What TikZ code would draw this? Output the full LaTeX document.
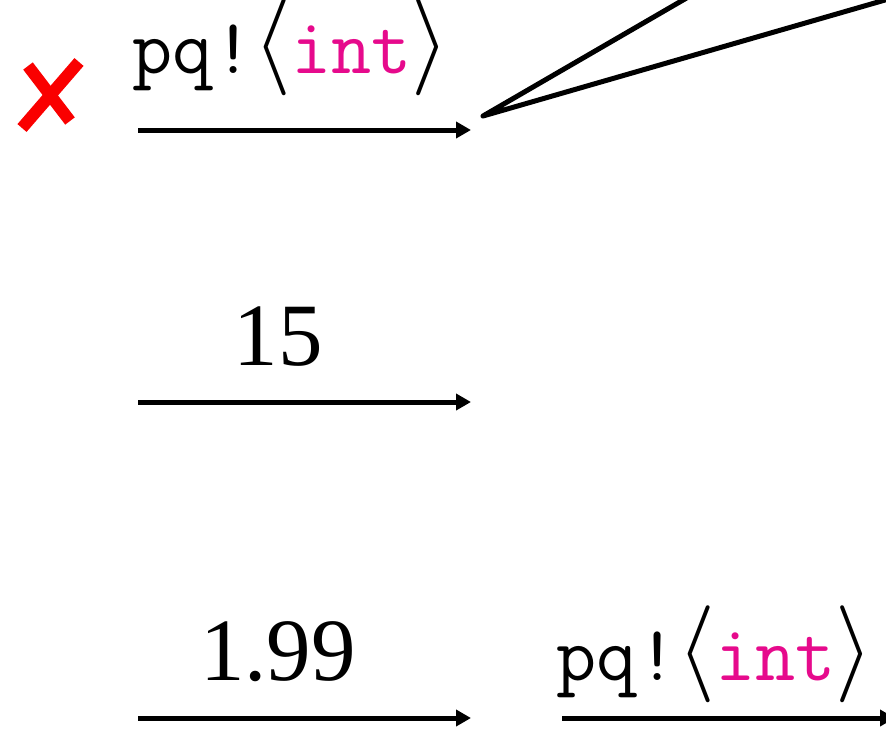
\RequirePackage{fix-cm}
\documentclass[tikz,border=0pt]{standalone}
\usepackage{fontspec}
\newfontfamily\timesfont{Liberation Serif}
\newfontfamily\lmmathfont{latinmodern-math.otf}
\usetikzlibrary{arrows.meta}
\definecolor{intpink}{RGB}{230,10,140}
\definecolor{crossred}{RGB}{250,0,0}
\newcommand{\cmttfont}{\fontencoding{OT1}\fontfamily{cmtt}\selectfont}
\newcommand{\tallang}[1]{\raisebox{2pt}{\fontsize{97}{100}\lmmathfont #1}}
\tikzset{
  msgarrow/.style={line width=5pt,-{Triangle[length=15pt,width=16pt]}},
  ttlabel/.style={anchor=base,inner sep=0pt,font=\fontsize{78}{86}\selectfont\cmttfont},
  numlabel/.style={anchor=base,inner sep=0pt,font=\fontsize{89}{96}\selectfont\timesfont},
  plainline/.style={line width=5pt,line cap=round,line join=round},
  crossstroke/.style={line width=12pt,crossred,line cap=butt}
}
\newcommand{\pqint}{pq!\tallang{⟨}\textcolor{intpink}{int}\tallang{⟩}}
\begin{document}
\begin{tikzpicture}[x=1pt,y=-1pt]
\useasboundingbox (0,0) rectangle (886,729);
% red cross
\coordinate (c1a) at (28,66);
\coordinate (c1b) at (70,121);
\coordinate (c2a) at (79,62);
\coordinate (c2b) at (22,128);
\draw[crossstroke] (c1a) -- (c1b);
\draw[crossstroke] (c2a) -- (c2b);
% row 1
\node[ttlabel] (l1) at (291,73) {\pqint};
\coordinate (a1s) at (138,130);
\coordinate (a1e) at (471,130);
\draw[msgarrow] (a1s) -- (a1e);
\coordinate (v) at (483,116);
\coordinate (v1) at (690,-4);
\coordinate (v2) at (892,-2);
\draw[plainline] (v1) -- (v) -- (v2);
% row 2
\node[numlabel] (l2) at (278,365) {15};
\coordinate (a2s) at (138,402);
\coordinate (a2e) at (471,402);
\draw[msgarrow] (a2s) -- (a2e);
% row 3
\node[numlabel] (l3) at (278,680) {1.99};
\coordinate (a3s) at (138,718);
\coordinate (a3e) at (471,718);
\draw[msgarrow] (a3s) -- (a3e);
\node[ttlabel] (l4) at (715,680) {\pqint};
\coordinate (a4s) at (562,718);
\coordinate (a4e) at (895,718);
\draw[msgarrow] (a4s) -- (a4e);
\end{tikzpicture}
\end{document}
